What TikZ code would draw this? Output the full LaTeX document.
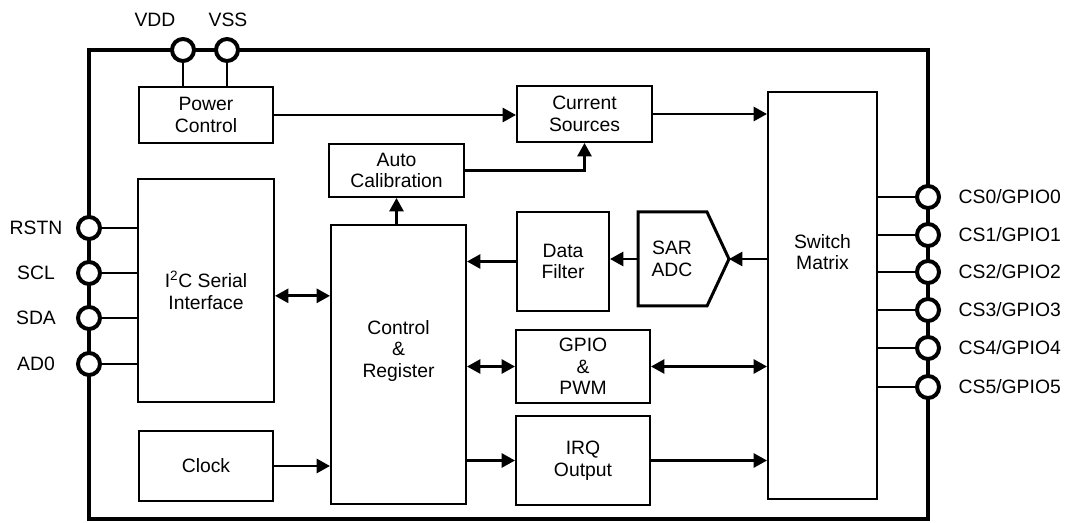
\documentclass[tikz,border=0pt]{standalone}
\usepackage{fontspec}
\setmainfont{Liberation Sans}
\usetikzlibrary{arrows.meta}

\begin{document}
\begin{tikzpicture}[x=0.75pt, y=-0.75pt,
  every node/.style={font=\fontsize{14.5}{16.3}\selectfont, align=center},
  blk/.style={draw, line width=1.5pt, inner sep=0pt},
  arr/.style={line width=2pt, -{Triangle[length=10pt,width=10.5pt]}},
  dbl/.style={line width=2pt, {Triangle[length=10pt,width=10.5pt]}-{Triangle[length=10pt,width=10.5pt]}},
  wire/.style={line width=1.5pt},
  pinring/.style={circle, draw, line width=3pt, fill=white, minimum size=16.5pt, inner sep=0pt}]
  \useasboundingbox (0,0) rectangle (1070,523);

  % outer chip border
  \draw[line width=3.5pt, line join=miter] (89,50) rectangle (928,519);

  % blocks
  \node[blk, minimum width=100.5pt, minimum height=42pt] (pwr) at (206,115) {Power\\Control};
  \node[blk, minimum width=101.25pt, minimum height=42pt] (cur) at (584.5,114) {Current\\Sources};
  \node[blk, minimum width=101.25pt, minimum height=39.75pt] (cal) at (396.5,170.5) {Auto\\Calibration};
  \node[blk, minimum width=102pt, minimum height=167.25pt] (i2c) at (206,290.5) {I\textsuperscript{2}C Serial\\Interface};
  \node[blk, minimum width=100.5pt, minimum height=52.5pt] (clk) at (206,466) {Clock};
  \node[blk, minimum width=101.25pt, minimum height=209.25pt] (ctrl) at (398.5,364.5) {};
  \node (ctrltxt) at (398.5,351) {Control\\\&\\Register};
  \node[blk, minimum width=69pt, minimum height=74.25pt] (filt) at (563,261.5) {Data\\Filter};
  \node[blk, minimum width=100.5pt, minimum height=54.75pt] (gpio) at (583,366.5) {GPIO\\\&\\PWM};
  \node[blk, minimum width=100.5pt, minimum height=66.75pt] (irq) at (583,460.5) {IRQ\\Output};
  \node[blk, minimum width=81.75pt, minimum height=305.25pt] (sw) at (822.5,295.5) {};
  \node (swtxt) at (822.5,252) {Switch\\Matrix};

  % SAR ADC
  \coordinate (sarin) at (729,259);
  \coordinate (sarout) at (638,259);
  \draw[line width=2.25pt, line join=miter] (638,212) -- (707,212) -- (sarin) -- (707,306) -- (638,306) -- cycle;
  \node (sar) at (672,259) {SAR\\ADC};

  % data paths
  \draw[arr] (pwr.east) -- (pwr.east -| cur.west);
  \draw[arr] (cur.east) -- (cur.east -| sw.west);
  \draw[arr] (cal.east) -| (cur.south);
  \draw[arr] (cal.south |- ctrl.north) -- (cal.south);
  \draw[arr] (sw.west |- sarin) -- (sarin);
  \draw[arr] (sarout) -- (sarout -| filt.east);
  \draw[arr] (filt.west) -- (filt.west -| ctrl.east);
  \draw[dbl] ([yshift=-4pt]i2c.east) -- ([yshift=-4pt]i2c.east -| ctrl.west);
  \draw[dbl] (ctrl.east |- gpio.west) -- (gpio.west);
  \draw[dbl] (gpio.east) -- (gpio.east -| sw.west);
  \draw[arr] (ctrl.east |- irq.west) -- (irq.west);
  \draw[arr] (clk.east) -- (clk.east -| ctrl.west);
  \draw[arr] (irq.east) -- (irq.east -| sw.west);

  % supply pins
  \node[pinring] (vdd) at (183,50) {};
  \node[pinring] (vss) at (227,50) {};
  \node (vddlbl) at (155,20) {VDD};
  \node (vsslbl) at (228,20) {VSS};
  \draw[wire] (vdd.south) -- (vdd.south |- pwr.north);
  \draw[wire] (vss.south) -- (vss.south |- pwr.north);

  % host pins
  \foreach \name/\y in {RSTN/228, SCL/273, SDA/318, AD0/364} {
    \node[pinring] (\name) at (89,\y) {};
    \node (\name lbl) at (36,\y) {\name};
    \draw[wire] (\name.east) -- (\name.east -| i2c.west);
  }

  % sensor pins
  \foreach \i/\y in {0/197, 1/235, 2/272, 3/310, 4/348, 5/387} {
    \node[pinring] (cs\i) at (928,\y) {};
    \node[anchor=west] (cs\i lbl) at (954,\y) {CS\i/GPIO\i};
    \draw[wire] (cs\i.west) -- (cs\i.west -| sw.east);
  }
\end{tikzpicture}
\end{document}
